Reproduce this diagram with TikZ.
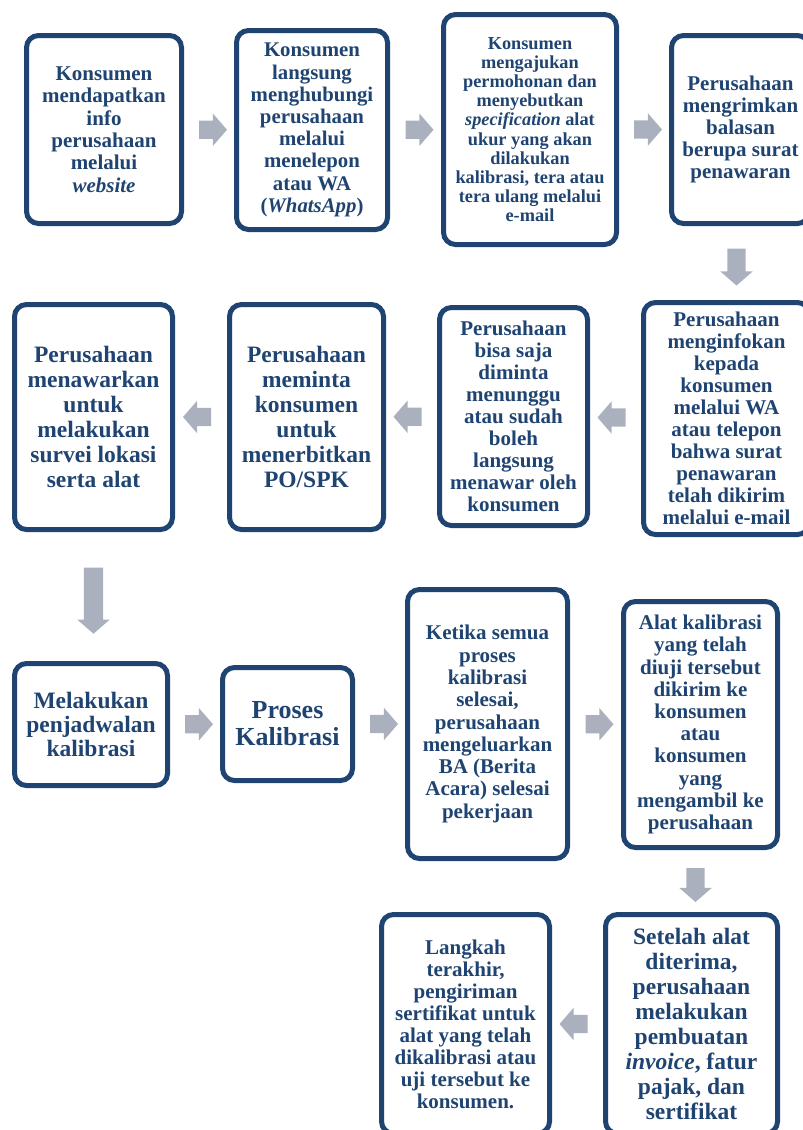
\documentclass[tikz,border=0pt]{standalone}
\usepackage{fontspec}
\setmainfont{Liberation Serif}
\usetikzlibrary{shapes.arrows,calc}
\definecolor{boxnavy}{HTML}{1F4472}
\definecolor{arrowgray}{HTML}{ABB0BE}
\newcommand{\boxfont}[2]{\bfseries\fontsize{#1}{#2}\selectfont}

\begin{document}
\begin{tikzpicture}[x=1pt,y=-1pt,
  stepbox/.style={draw=boxnavy, line width=5pt, rounded corners=12pt, fill=white,
    align=center, inner sep=0pt, text=boxnavy},
  rarr/.style={single arrow, fill=arrowgray, draw=none, inner sep=9pt,
    minimum height=28pt, minimum width=32pt, single arrow head extend=7pt,
    single arrow tip angle=98},
  larr/.style={rarr, shape border rotate=180},
  darr/.style={rarr, shape border rotate=270}]
  \useasboundingbox (0,0) rectangle (803,1130);

  % row 1
  \node[stepbox, minimum width=155pt, minimum height=188pt, font=\boxfont{21}{22.3}] (b1) at (104,129.5)
    {Konsumen\\mendapatkan\\info\\perusahaan\\melalui\\\textit{website}};
  \node[stepbox, minimum width=151pt, minimum height=199pt, font=\boxfont{20.8}{22.2}] (b2) at (312,130)
    {Konsumen\\langsung\\menghubungi\\perusahaan\\melalui\\menelepon\\atau WA\\(\textit{WhatsApp})};
  \node[stepbox, minimum width=173pt, minimum height=230pt, font=\boxfont{18.3}{19.2}] (b3) at (530,129.5)
    {Konsumen\\mengajukan\\permohonan dan\\menyebutkan\\\textit{specification} alat\\ukur yang akan\\dilakukan\\kalibrasi, tera atau\\tera ulang melalui\\e-mail};
  \node[stepbox, minimum width=138pt, minimum height=188pt, font=\boxfont{21}{22}] (b4) at (740.5,129.5)
    {Perusahaan\\mengrimkan\\balasan\\berupa surat\\penawaran};

  % row 2
  \node[stepbox, minimum width=166pt, minimum height=232pt, font=\boxfont{21}{22}] (b5) at (726.5,418.5)
    {Perusahaan\\menginfokan\\kepada\\konsumen\\melalui WA\\atau telepon\\bahwa surat\\penawaran\\telah dikirim\\melalui e-mail};
  \node[stepbox, minimum width=148pt, minimum height=218pt, font=\boxfont{21}{22}] (b6) at (513.5,416.5)
    {Perusahaan\\bisa saja\\diminta\\menunggu\\atau sudah\\boleh\\langsung\\menawar oleh\\konsumen};
  \node[stepbox, minimum width=154pt, minimum height=225pt, font=\boxfont{23.5}{25}] (b7) at (306.5,417)
    {Perusahaan\\meminta\\konsumen\\untuk\\menerbitkan\\PO/SPK};
  \node[stepbox, minimum width=158pt, minimum height=225pt, font=\boxfont{23.5}{25}] (b8) at (93.5,417)
    {Perusahaan\\menawarkan\\untuk\\melakukan\\survei lokasi\\serta alat};

  % row 3
  \node[stepbox, minimum width=153pt, minimum height=122pt, font=\boxfont{23.5}{24}] (b9) at (91,724.5)
    {Melakukan\\penjadwalan\\kalibrasi};
  \node[stepbox, minimum width=130pt, minimum height=113pt, font=\boxfont{26}{27}] (b10) at (287.5,724)
    {Proses\\Kalibrasi};
  \node[stepbox, minimum width=160pt, minimum height=269pt, font=\boxfont{21}{22.3}] (b11) at (487.5,724)
    {Ketika semua\\proses\\kalibrasi\\selesai,\\perusahaan\\mengeluarkan\\BA (Berita\\Acara) selesai\\pekerjaan};
  \node[stepbox, minimum width=154pt, minimum height=246pt, font=\boxfont{21}{22.2}] (b12) at (700.5,724.5)
    {Alat kalibrasi\\yang telah\\diuji tersebut\\dikirim ke\\konsumen\\atau\\konsumen\\yang\\mengambil ke\\perusahaan};

  % row 4
  \node[stepbox, minimum width=172pt, minimum height=219pt, font=\boxfont{23.5}{25}] (b13) at (691.5,1024)
    {Setelah alat\\diterima,\\perusahaan\\melakukan\\pembuatan\\\textit{invoice}, fatur\\pajak, dan\\sertifikat};
  \node[stepbox, minimum width=168pt, minimum height=219pt, font=\boxfont{21}{22}] (b14) at (465.5,1024)
    {Langkah\\terakhir,\\pengiriman\\sertifikat untuk\\alat yang telah\\dikalibrasi atau\\uji tersebut ke\\konsumen.};

  % arrows
  \node[rarr] (a12) at ($(b1.east)!0.5!(b2.west)$) {};
  \node[rarr] (a23) at ($(b2.east)!0.5!(b3.west)$) {};
  \node[rarr] (a34) at ($(b3.east)!0.5!(b4.west)$) {};
  \node[darr, minimum height=37pt, xshift=-4pt] (a45) at ($(b4.south)!0.5!(b4.south |- b5.north)$) {};
  \node[larr] (a56) at ($(b5.west)!0.5!(b6.east)$) {};
  \node[larr] (a67) at ($(b6.west)!0.5!(b7.east)$) {};
  \node[larr] (a78) at ($(b7.west)!0.5!(b8.east)$) {};
  \node[darr, minimum height=66pt, inner sep=9.5pt, single arrow head extend=6.5pt] (a89) at ($(b8.south)!0.5!(b8.south |- b9.north)$) {};
  \node[rarr] (a910) at ($(b9.east)!0.5!(b10.west)$) {};
  \node[rarr] (a1011) at ($(b10.east)!0.5!(b11.west)$) {};
  \node[rarr] (a1112) at ($(b11.east)!0.5!(b12.west)$) {};
  \node[darr, minimum height=34pt, xshift=-5pt] (a1213) at ($(b12.south)!0.5!(b12.south |- b13.north)$) {};
  \node[larr] (a1314) at ($(b13.west)!0.5!(b14.east)$) {};
\end{tikzpicture}
\end{document}
